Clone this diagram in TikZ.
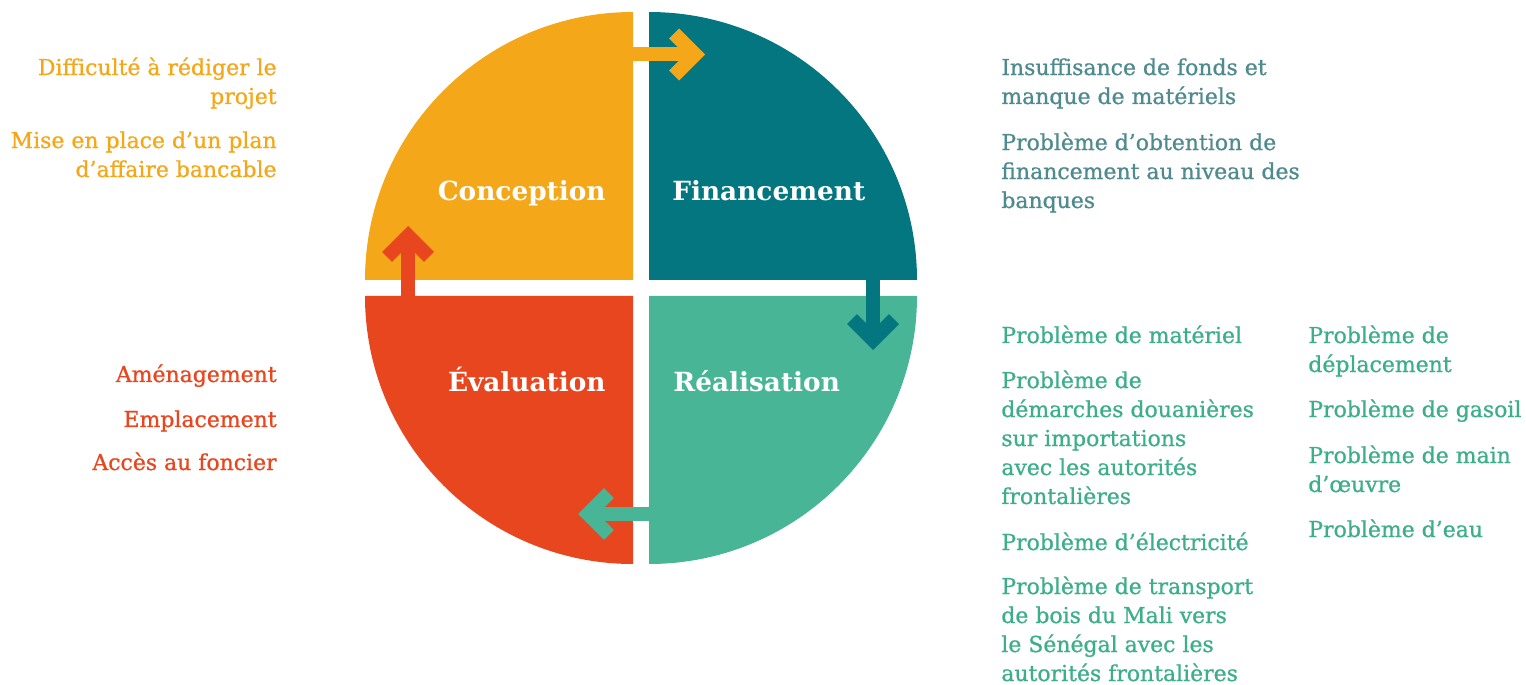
\documentclass[tikz,border=0pt]{standalone}
\usepackage{fontspec}
\setmainfont{DejaVu Serif}
\newfontfamily\notefont{DejaVu Serif}[FakeBold=0.9]
\usetikzlibrary{arrows.meta}

\definecolor{concorange}{HTML}{F5A71A}
\definecolor{finteal}{HTML}{04767F}
\definecolor{realgreen}{HTML}{47B596}
\definecolor{evalred}{HTML}{E8461E}
\definecolor{fintext}{HTML}{4F8A8E}
\definecolor{realtext}{HTML}{3DAE8A}

\tikzset{
  phase/.style={text=white, inner sep=0pt, font=\fontsize{15}{18}\selectfont\bfseries},
  note/.style={inner sep=0pt, font=\notefont\fontsize{12.5}{16.5}\selectfont},
  flow/.style={line width=0.28cm, -{Straight Barb[length=0.42cm,width=0.84cm,sharp]}}
}

\begin{document}
\begin{tikzpicture}[x=0.02cm,y=0.02cm]
\useasboundingbox (0,0) rectangle (1526,684);

% the four quarters of the cycle
\fill[concorange] (633,404) -- ++(-268,0) arc[start angle=180, end angle=90, radius=268] -- cycle;
\fill[finteal] (649,404) -- ++(268,0) arc[start angle=0, end angle=90, radius=268] -- cycle;
\fill[realgreen] (649,388) -- ++(268,0) arc[start angle=0, end angle=-90, radius=268] -- cycle;
\fill[evalred] (633,388) -- ++(-268,0) arc[start angle=180, end angle=270, radius=268] -- cycle;

% ends of the arrows between the quarters
\coordinate (conc-out) at (633,629.5);
\coordinate (fin-in) at (705,629.5);
\coordinate (fin-out) at (873,405);
\coordinate (real-in) at (873,334);
\coordinate (real-out) at (649,170);
\coordinate (eval-in) at (578,170);
\coordinate (eval-out) at (408,387);
\coordinate (conc-in) at (408,458);

\draw[flow, concorange] (conc-out) -- (fin-in);
\draw[flow, finteal] (fin-out) -- (real-in);
\draw[flow, realgreen] (real-out) -- (eval-in);
\draw[flow, evalred] (eval-out) -- (conc-in);

% phase names
\node[phase, anchor=base east] (conception) at (606,483) {Conception};
\node[phase, anchor=base west] (financement) at (672,483) {Financement};
\node[phase, anchor=base east] (evaluation) at (606,293) {Évaluation};
\node[phase, anchor=base west] (realisation) at (673,293) {Réalisation};

% problems met at each phase (base = last line)
\node[note, text=concorange, align=right, anchor=base east] (conc1) at (277,580) {Difficulté à rédiger le\\projet};
\node[note, text=concorange, align=right, anchor=base east] (conc2) at (277,507) {Mise en place d’un plan\\d’affaire bancable};

\node[note, text=evalred, align=right, anchor=base east] (eval1) at (277,302) {Aménagement};
\node[note, text=evalred, align=right, anchor=base east] (eval2) at (277,257) {Emplacement};
\node[note, text=evalred, align=right, anchor=base east] (eval3) at (277,214) {Accès au foncier};

\node[note, text=fintext, align=left, anchor=base west] (fin1) at (1001,580) {Insuffisance de fonds et\\manque de matériels};
\node[note, text=fintext, align=left, anchor=base west] (fin2) at (1001,476) {Problème d’obtention de\\financement au niveau des\\banques};

\node[note, text=realtext, align=left, anchor=base west] (real1) at (1001,341) {Problème de matériel};
\node[note, text=realtext, align=left, anchor=base west] (real2) at (1001,180) {Problème de\\démarches douanières\\sur importations\\avec les autorités\\frontalières};
\node[note, text=realtext, align=left, anchor=base west] (real3) at (1001,134) {Problème d’électricité};
\node[note, text=realtext, align=left, anchor=base west] (real4) at (1001,3) {Problème de transport\\de bois du Mali vers\\le Sénégal avec les\\autorités frontalières};

\node[note, text=realtext, align=left, anchor=base west] (real5) at (1308,312) {Problème de\\déplacement};
\node[note, text=realtext, align=left, anchor=base west] (real6) at (1308,267) {Problème de gasoil};
\node[note, text=realtext, align=left, anchor=base west] (real7) at (1308,192) {Problème de main\\d’œuvre};
\node[note, text=realtext, align=left, anchor=base west] (real8) at (1308,147) {Problème d’eau};
\end{tikzpicture}
\end{document}
